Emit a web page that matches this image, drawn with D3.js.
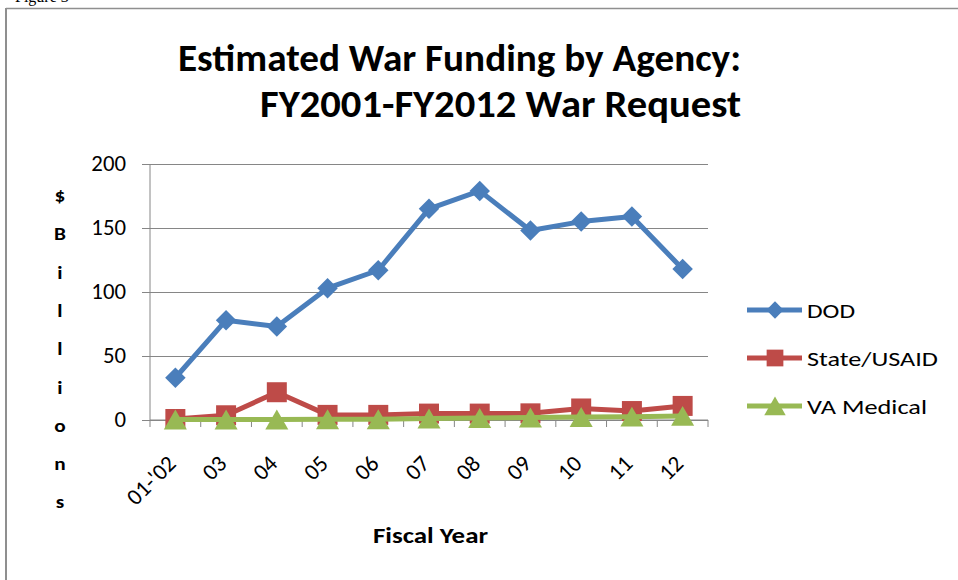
<!DOCTYPE html>
<html>
<head>
<meta charset="utf-8">
<script src="https://cdn.jsdelivr.net/npm/d3@7"></script>
<style>
  html, body { margin: 0; padding: 0; background: #fff; }
  svg { display: block; font-family: Carlito, Calibri, Lato, "Open Sans", sans-serif; }
</style>
</head>
<body>
<svg id="chart" width="958" height="580"></svg>
<script>
const categories = ["01-'02", "03", "04", "05", "06", "07", "08", "09", "10", "11", "12"];
const dodValues = [33, 78, 73, 103, 117, 165, 179, 148, 155, 159, 118];
const stateValues = [0.8, 3.7, 21.7, 4, 4, 5, 5, 5.2, 9, 7, 11];
const vaValues = [0.3, 0.3, 0.3, 0.5, 0.6, 1.2, 1.5, 1.9, 2.3, 2.6, 3.2];
const yTicks = [0, 50, 100, 150, 200];
const seriesNames = ["DOD", "State/USAID", "VA Medical"];
const seriesColors = ["#4A7EBB", "#BE4B48", "#98B954"];
const titleLines = ["Estimated War Funding by Agency:", "FY2001-FY2012 War Request"];
const yAxisTitle = "$Billions";
const xAxisTitle = "Fiscal Year";

const svg = d3.select("#chart");

function stretch(sel, factor) {
  sel.each(function () {
    const w = this.getComputedTextLength();
    d3.select(this).attr("textLength", w * factor).attr("lengthAdjust", "spacingAndGlyphs");
  });
}

// outer frame
svg.append("line").attr("x1", 6).attr("x2", 6).attr("y1", 8).attr("y2", 580)
  .attr("stroke", "#8f8f8f").attr("stroke-width", 2);
svg.append("line").attr("x1", 6).attr("x2", 958).attr("y1", 8.5).attr("y2", 8.5)
  .attr("stroke", "#8f8f8f").attr("stroke-width", 1.5);
svg.append("text").attr("x", 15).attr("y", 2).attr("font-family", "Liberation Serif, serif")
  .attr("font-size", 16).attr("fill", "#000").text("Figure 3");

const plot = { left: 150, right: 708, top: 164, bottom: 420 };

const x = d3.scaleBand().domain(categories).range([plot.left, plot.right]).padding(0);
const y = d3.scaleLinear().domain([0, 200]).range([plot.bottom, plot.top]);

// gridlines + y axis
const yAxis = d3.axisLeft(y).tickValues(yTicks).tickSize(-(plot.right - plot.left)).tickPadding(24).tickSizeOuter(0);
const gy = svg.append("g").attr("transform", `translate(${plot.left},0)`).call(yAxis);
gy.select(".domain").attr("stroke", "#868686").attr("d", `M0,${plot.top}V${plot.bottom}`);
gy.selectAll(".tick line").attr("stroke", "#868686").attr("x1", -8);
gy.selectAll(".tick text").attr("font-size", 21.5).attr("fill", "#000")
  .attr("font-family", "Carlito, Calibri, Lato, sans-serif");
stretch(gy.selectAll(".tick text"), 1.06);

// x axis
const xAxis = d3.axisBottom(x).tickSize(0).tickFormat("");
const gx = svg.append("g").attr("transform", `translate(0,${plot.bottom})`).call(xAxis);
gx.select(".domain").attr("stroke", "#868686").attr("d", `M${plot.left},0H${plot.right}`);
gx.selectAll(".tick").remove();
const boundaries = categories.map(c => x(c)).concat([plot.right]);
gx.selectAll("line.bt").data(boundaries).enter().append("line").attr("class", "bt")
  .attr("x1", d => d).attr("x2", d => d).attr("y1", 0).attr("y2", 7).attr("stroke", "#868686");

// x labels
svg.append("g").selectAll("text").data(categories).enter().append("text")
  .attr("transform", d => `translate(${x(d) + x.bandwidth() / 2 + 2},${plot.bottom + 45}) rotate(-45)`)
  .attr("text-anchor", "end").attr("font-size", 23).attr("fill", "#000").text(d => d);

// series
const cx = d => x(d) + x.bandwidth() / 2;
const seriesData = [dodValues, stateValues, vaValues];
const line = d3.line().x((d, i) => cx(categories[i])).y(d => y(d));

const symbols = [d3.symbolSquare, d3.symbolSquare, d3.symbolTriangle];
const symSizes = [210, 400, 230];
const symRot = [45, 0, 0];
const symDy = [0, 0, 3.3];

seriesData.forEach((vals, si) => {
  const g = svg.append("g");
  g.append("path").datum(vals).attr("d", line).attr("fill", "none")
    .attr("stroke", seriesColors[si]).attr("stroke-width", 5).attr("stroke-linejoin", "round");
  g.selectAll("path.m").data(vals).enter().append("path").attr("class", "m")
    .attr("transform", (d, i) => `translate(${cx(categories[i])},${y(d) + symDy[si]}) rotate(${symRot[si]})`)
    .attr("d", d3.symbol().type(symbols[si]).size(symSizes[si]))
    .attr("fill", seriesColors[si]);
});

// legend
const legY = [310, 358, 406];
const legSizes = [150, 280, 200];
const legTextW = [48, 131, 120];
seriesNames.forEach((name, si) => {
  const g = svg.append("g").attr("transform", `translate(0,${legY[si]})`);
  g.append("line").attr("x1", 747).attr("x2", 802).attr("y1", 0).attr("y2", 0)
    .attr("stroke", seriesColors[si]).attr("stroke-width", 5);
  g.append("path").attr("transform", `translate(775,${symDy[si] * 0.9}) rotate(${symRot[si]})`)
    .attr("d", d3.symbol().type(symbols[si]).size(legSizes[si]))
    .attr("fill", seriesColors[si]);
  g.append("text").attr("x", 807).attr("y", 8).attr("font-size", 21).attr("fill", "#000")
    .attr("textLength", legTextW[si]).attr("lengthAdjust", "spacingAndGlyphs").text(name);
});

// titles
const titleSpans = [[178, 741], [260, 741]];
svg.append("g").selectAll("text").data(titleLines).enter().append("text")
  .attr("x", (d, i) => titleSpans[i][0]).attr("y", (d, i) => 71 + i * 46)
  .attr("textLength", (d, i) => titleSpans[i][1] - titleSpans[i][0]).attr("lengthAdjust", "spacingAndGlyphs")
  .attr("font-size", 39).attr("font-weight", "bold").attr("fill", "#000").text(d => d);

// y axis title, stacked letters
const gyt = svg.append("g");
gyt.selectAll("text").data(yAxisTitle.split("")).enter().append("text")
  .attr("x", 60).attr("y", (d, i) => 202 + i * 38.3).attr("text-anchor", "middle")
  .attr("font-size", 19).attr("font-weight", "bold").attr("fill", "#000").text(d => d);
stretch(gyt.selectAll("text"), 1.12);

svg.append("text").attr("x", 373).attr("y", 543)
  .attr("font-size", 22).attr("font-weight", "bold").attr("fill", "#000")
  .attr("textLength", 115).attr("lengthAdjust", "spacingAndGlyphs").text(xAxisTitle);
</script>
</body>
</html>
